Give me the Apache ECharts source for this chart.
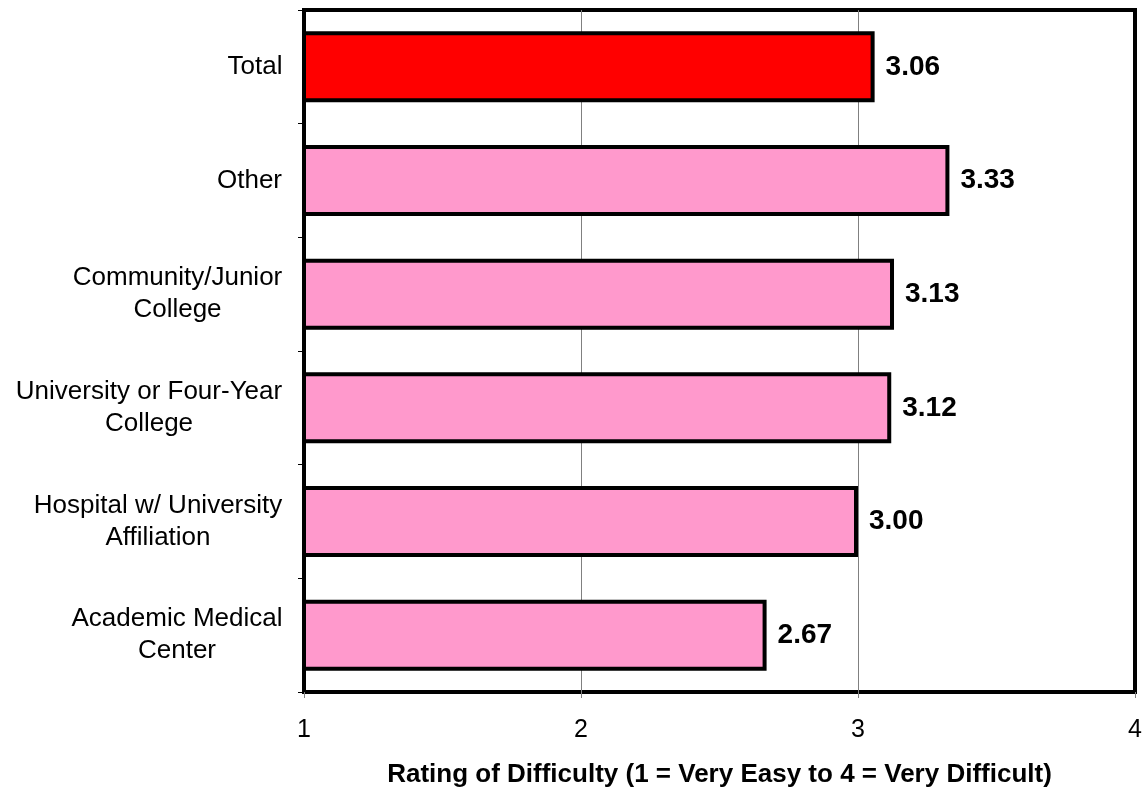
<!DOCTYPE html>
<html>
<head>
<meta charset="utf-8">
<script src="https://cdn.jsdelivr.net/npm/echarts@6/dist/echarts.min.js"></script>
<style>html,body{margin:0;padding:0;background:#fff;}#c{width:1146px;height:791px;}</style>
</head>
<body>
<div id="c"></div>
<script>
const categories = ["Academic Medical\nCenter", "Hospital w/ University\nAffiliation", "University or Four-Year\nCollege", "Community/Junior\nCollege", "Other", "Total"];
const values = [2.67, 3.00, 3.12, 3.13, 3.33, 3.06];
const barColors = ["#FF99CC", "#FF99CC", "#FF99CC", "#FF99CC", "#FF99CC", "#FF0000"];
const xTicks = [1, 2, 3, 4];
const axisTitle = "Rating of Difficulty (1 = Very Easy to 4 = Very Difficult)";

const catFontSize = 26;
const catFont = catFontSize + 'px "Liberation Sans"';
const ctx = document.createElement('canvas').getContext('2d');
ctx.font = catFont;
const rich = {};
categories.forEach((c, i) => {
  const w = Math.max(...c.split('\n').map(l => ctx.measureText(l).width));
  rich['l' + i] = {width: Math.ceil(w) + 1, align: 'center', fontSize: catFontSize, lineHeight: 32,
    color: '#000', fontFamily: 'Liberation Sans'};
});

const chart = echarts.init(document.getElementById('c'), null, {renderer: 'canvas'});
chart.setOption({
  animation: false,
  backgroundColor: '#fff',
  textStyle: {fontFamily: 'Liberation Sans, Arial, sans-serif'},
  grid: {left: 304, right: 11, top: 10, bottom: 99, show: true, borderColor: '#000', borderWidth: 4,
    containLabel: false, outerBoundsMode: 'none'},
  xAxis: {
    type: 'value', min: xTicks[0], max: xTicks[xTicks.length - 1], interval: 1,
    axisLine: {show: false},
    axisTick: {show: true, length: 6, lineStyle: {color: '#808080'}},
    splitLine: {show: true, showMinLine: false, showMaxLine: false, lineStyle: {color: '#808080', width: 1}},
    axisLabel: {color: '#000', fontSize: 25, margin: 26, fontFamily: 'Liberation Sans'},
    name: axisTitle, nameLocation: 'middle', nameGap: 70,
    nameTextStyle: {color: '#000', fontSize: 26, fontWeight: 'bold', fontFamily: 'Liberation Sans'}
  },
  yAxis: {
    type: 'category', data: categories,
    axisLine: {show: false},
    axisTick: {show: true, length: 6, lineStyle: {color: '#000'}},
    axisLabel: {
      color: '#000', fontSize: catFontSize, lineHeight: 32, margin: 21, fontFamily: 'Liberation Sans', align: 'right',
      formatter: (val, idx) => val.split('\n').map(l => '{l' + idx + '|' + l + '}').join('\n'),
      rich: rich
    }
  },
  series: [{
    type: 'bar',
    barWidth: 71,
    data: values.map((v, i) => ({value: v, itemStyle: {color: barColors[i]}})),
    itemStyle: {borderColor: '#000', borderWidth: 4},
    label: {show: true, position: 'right', distance: 11, color: '#000', fontSize: 28, fontWeight: 'bold',
      fontFamily: 'Liberation Sans', formatter: p => p.value.toFixed(2)}
  }]
});
</script>
</body>
</html>
